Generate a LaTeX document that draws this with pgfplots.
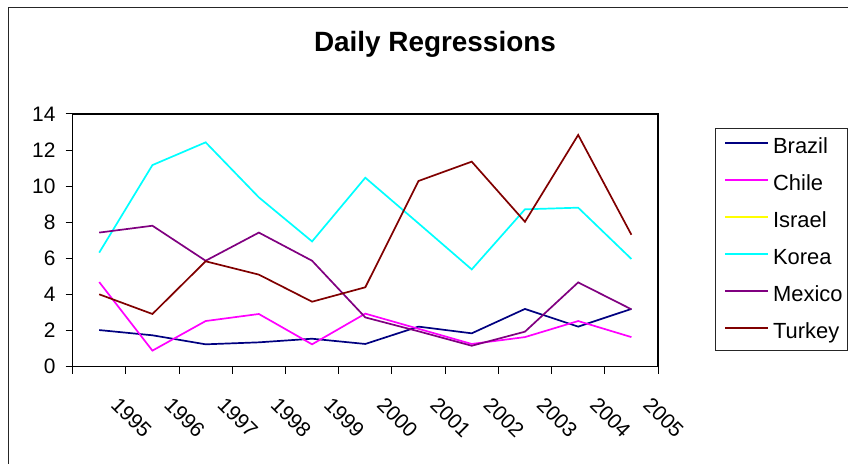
\documentclass[border=0pt]{standalone}
\usepackage{pgfplots}
\usepackage{pgfplotstable}
\pgfplotsset{compat=1.18}
\usepackage{fontspec}
\setmainfont{Liberation Sans}
\definecolor{cBrazil}{RGB}{0,0,128}
\definecolor{cChile}{RGB}{255,0,255}
\definecolor{cIsrael}{RGB}{255,255,0}
\definecolor{cKorea}{RGB}{0,255,255}
\definecolor{cMexico}{RGB}{128,0,128}
\definecolor{cTurkey}{RGB}{128,0,0}
\pgfplotstableread{
x Brazil Chile Korea Mexico Turkey
0 2.03 4.69 6.32 7.43 4.01
1 1.74 0.89 11.17 7.81 2.92
2 1.24 2.53 12.43 5.87 5.84
3 1.35 2.92 9.38 7.43 5.10
4 1.55 1.24 6.94 5.87 3.60
5 1.26 2.94 10.47 2.73 4.40
6 2.22 2.10 7.94 1.96 10.29
7 1.85 1.26 5.39 1.16 11.36
8 3.20 1.64 8.72 1.94 8.03
9 2.22 2.53 8.81 4.67 12.84
10 3.20 1.64 5.97 3.18 7.31
}\datatable
\begin{document}
\begin{tikzpicture}
\useasboundingbox (0,0) rectangle (848bp,464bp);
\draw[line width=1.3bp, black!85] (8.3bp,0) -- (8.3bp,456.7bp) -- (848bp,456.7bp);
\begin{axis}[
  at={(72.6bp,97.3bp)}, anchor=south west,
  width=585.4bp, height=252.7bp, scale only axis,
  xmin=-0.5, xmax=10.5, ymin=0, ymax=14,
  ytick={0,2,...,14},
  xtick={-0.5,0.5,...,10.5},
  xticklabels={},
  extra x ticks={0,1,...,10},
  extra x tick labels={1995,1996,1997,1998,1999,2000,2001,2002,2003,2004,2005},
  extra x tick style={major tick length=0pt,
    xticklabel style={inner sep=0pt, xshift=21bp, yshift=-29bp, rotate=-45, anchor=north west, font=\fontsize{21}{25}\selectfont}},
  tick pos=left,
  tick align=outside,
  major tick length=7bp,
  every tick/.style={black, line width=1bp},
  axis line style={line width=1.5bp},
  /pgf/number format/assume math mode=true,
  tick label style={font=\fontsize{21}{25}\selectfont},
  yticklabel style={inner sep=0pt, anchor=east, xshift=-10bp},
  title={Daily Regressions},
  title style={at={(axis description cs:0.619,1.224)}, anchor=base, inner sep=0pt, font=\bfseries\fontsize{28}{32}\selectfont},
  legend style={at={(axis description cs:1.0974,0.9448)}, anchor=north west,
    draw=black!85, line width=0.8bp, inner xsep=5bp, inner ysep=8bp,
    font=\fontsize{22}{26}\selectfont,
    row sep=16bp,
    nodes={text height=17bp, text depth=4bp, inner sep=0pt},
    /tikz/every odd column/.append style={column sep=4bp}},
  legend cell align=left,
  legend image code/.code={\path (0bp,0bp); \draw[#1] (4bp,4bp) -- (47bp,4bp);},
  every axis plot/.append style={line width=1.7bp},
]
\addplot[cBrazil] table[x=x, y=Brazil] {\datatable};
\addlegendentry{Brazil}
\addplot[cChile] table[x=x, y=Chile] {\datatable};
\addlegendentry{Chile}
\addlegendimage{cIsrael, line width=1.7bp}
\addlegendentry{Israel}
\addplot[cKorea] table[x=x, y=Korea] {\datatable};
\addlegendentry{Korea}
\addplot[cMexico] table[x=x, y=Mexico] {\datatable};
\addlegendentry{Mexico}
\addplot[cTurkey] table[x=x, y=Turkey] {\datatable};
\addlegendentry{Turkey}
\end{axis}
\end{tikzpicture}
\end{document}
